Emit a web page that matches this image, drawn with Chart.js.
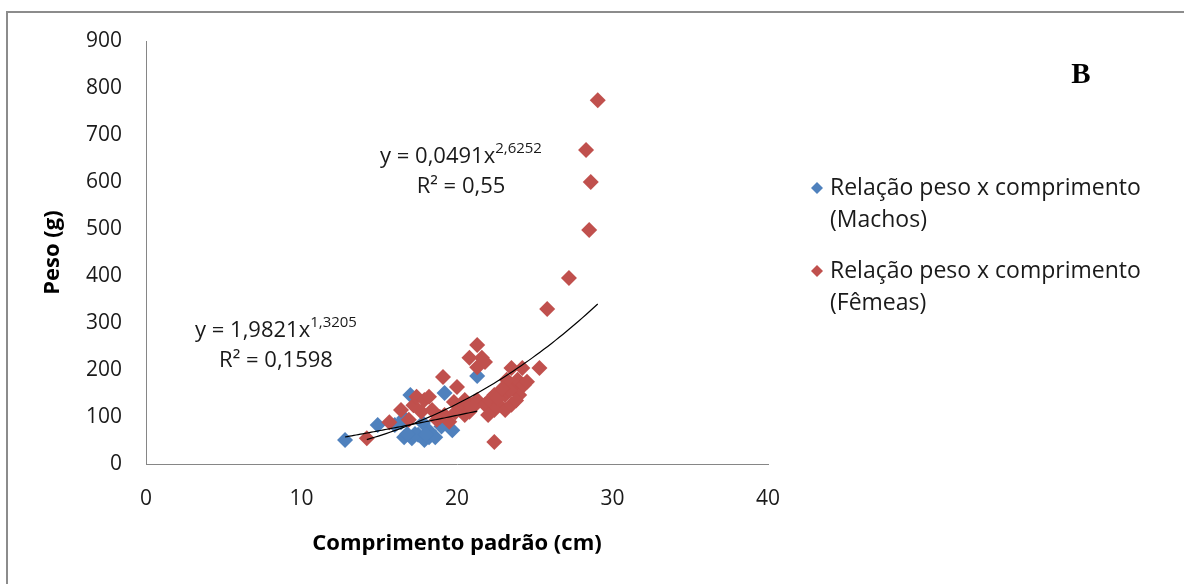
<!DOCTYPE html>
<html>
<head>
<meta charset="utf-8">
<script src="https://cdn.jsdelivr.net/npm/chart.js@4.4.0/dist/chart.umd.min.js"></script>
<style>
  html, body { margin: 0; padding: 0; background: #fff; }
  #wrap { width: 1184px; height: 584px; position: relative; }
</style>
</head>
<body>
<div id="wrap"><canvas id="pesoChart"></canvas></div>
<script>
// Machos: comprimento padrão (cm) / peso (g)
const machosX = [12.8, 14.9, 16.0, 16.4, 16.6, 16.6, 17.0, 17.1, 17.5, 17.8, 17.9, 18.2, 18.6, 18.2, 19.2, 19.0, 19.7, 21.3,
  17.3, 18.0, 16.8];
const machosY = [51, 83, 83, 89, 98, 57, 147, 55, 62, 87, 51, 57, 57, 70, 151, 80, 72, 187,
  64, 62, 64];

// Fêmeas
const femeasX = [14.2, 15.65, 16.4, 16.9, 17.2, 17.4, 17.9, 18.2, 17.7, 18.4, 18.7, 19.1, 20.0, 19.8, 19.2, 19.5,
  20.2, 20.5, 20.8, 21.3, 21.6, 21.3, 21.8, 20.9, 21.3, 21.8, 22.1, 22.4, 22.7, 22.4, 23.1, 23.1, 23.5, 23.7,
  23.5, 24.0, 23.9, 24.2, 24.3, 23.4, 23.2, 22.4, 22.0, 20.5, 20.8, 25.3, 25.8, 27.2, 28.5, 28.6, 28.3, 29.05,
  18.9, 19.9, 21.0, 22.6, 23.8, 24.5, 22.9];
const femeasY = [55, 89, 115, 94, 125, 143, 136, 143, 111, 115, 94, 185, 164, 132, 104, 90,
  115, 136, 226, 253, 226, 206, 217, 126, 136, 126, 136, 147, 126, 47, 147, 115, 204, 168,
  126, 147, 179, 204, 168, 157, 179, 115, 104, 104, 111, 204, 330, 396, 498, 600, 668, 774,
  100, 110, 120, 140, 135, 175, 160];

const xTicks = [0, 10, 20, 30, 40];
const yTicks = [0, 100, 200, 300, 400, 500, 600, 700, 800, 900];

const seriesNames = [
  ['Relação peso x comprimento', '(Machos)'],
  ['Relação peso x comprimento', '(Fêmeas)']
];

// Power trendlines y = a * x^b, as printed on the chart
const machosFit = [1.9821, 1.3205];
const femeasFit = [0.0491, 2.6252];
const machosEq = ['y = 1,9821x', '1,3205', 'R² = 0,1598'];
const femeasEq = ['y = 0,0491x', '2,6252', 'R² = 0,55'];

const blue = '#4F81BD';
const red = '#C0504D';
const font = "'Open Sans', sans-serif";

function toPoints(xs, ys) {
  return xs.map((x, i) => ({ x: x, y: ys[i] }));
}

function trend(xs, fit) {
  const lo = Math.min(...xs), hi = Math.max(...xs);
  const pts = [];
  for (let i = 0; i <= 60; i++) {
    const x = lo + (hi - lo) * i / 60;
    pts.push({ x: x, y: fit[0] * Math.pow(x, fit[1]) });
  }
  return pts;
}

// Frame, legend, equations and the "B" panel letter
const extras = {
  id: 'extras',
  afterDraw(chart) {
    const ctx = chart.ctx;
    const area = chart.chartArea;
    ctx.save();

    // outer frame
    ctx.strokeStyle = '#8c8c8c';
    ctx.lineWidth = 2;
    ctx.strokeRect(7, 12, 1200, 600);

    // equations
    function eq(parts, cx, baseY) {
      ctx.fillStyle = '#1a1a1a';
      ctx.textBaseline = 'alphabetic';
      ctx.font = '22px ' + font;
      const w1 = ctx.measureText(parts[0]).width;
      ctx.font = '15px ' + font;
      const w2 = ctx.measureText(parts[1]).width;
      const left = cx - (w1 + w2) / 2;
      ctx.font = '22px ' + font;
      ctx.textAlign = 'left';
      ctx.fillText(parts[0], left, baseY);
      ctx.font = '15px ' + font;
      ctx.fillText(parts[1], left + w1, baseY - 10);
      ctx.font = '22px ' + font;
      ctx.textAlign = 'center';
      ctx.fillText(parts[2], cx, baseY + 30);
    }
    eq(femeasEq, area.left + 315, 163);
    eq(machosEq, area.left + 130, 337);

    // legend
    const colors = [blue, red];
    const rows = [188, 271];
    seriesNames.forEach((lines, i) => {
      const y = rows[i];
      ctx.fillStyle = colors[i];
      ctx.beginPath();
      ctx.moveTo(811, y);
      ctx.lineTo(817, y - 6);
      ctx.lineTo(823, y);
      ctx.lineTo(817, y + 6);
      ctx.closePath();
      ctx.fill();
      ctx.fillStyle = '#1a1a1a';
      ctx.font = '23px ' + font;
      ctx.textAlign = 'left';
      ctx.textBaseline = 'middle';
      lines.forEach((t, j) => ctx.fillText(t, 830, y + j * 32));
    });

    // panel letter
    ctx.font = "bold 29px 'Liberation Serif', serif";
    ctx.textAlign = 'center';
    ctx.textBaseline = 'middle';
    ctx.fillStyle = '#000';
    ctx.fillText('B', 1081, 76);

    ctx.restore();
  }
};

const pesoCtx = document.getElementById('pesoChart').getContext('2d');
new Chart(pesoCtx, {
  type: 'scatter',
  data: {
    datasets: [
      {
        label: seriesNames[0].join(' '),
        data: toPoints(machosX, machosY),
        pointStyle: 'rectRot',
        pointRadius: 8,
        pointBackgroundColor: blue,
        pointBorderColor: blue,
        pointBorderWidth: 0,
        order: 2
      },
      {
        label: seriesNames[1].join(' '),
        data: toPoints(femeasX, femeasY),
        pointStyle: 'rectRot',
        pointRadius: 8,
        pointBackgroundColor: red,
        pointBorderColor: red,
        pointBorderWidth: 0,
        order: 1
      },
      {
        type: 'line',
        label: 'Potência (Machos)',
        data: trend(machosX, machosFit),
        borderColor: '#000',
        borderWidth: 1.2,
        pointRadius: 0,
        fill: false,
        order: 0
      },
      {
        type: 'line',
        label: 'Potência (Fêmeas)',
        data: trend(femeasX, femeasFit),
        borderColor: '#000',
        borderWidth: 1.2,
        pointRadius: 0,
        fill: false,
        order: 0
      }
    ]
  },
  options: {
    responsive: true,
    maintainAspectRatio: false,
    animation: false,
    layout: { padding: { left: 0, right: 416, top: 41, bottom: 0 } },
    plugins: {
      legend: { display: false },
      tooltip: { enabled: false }
    },
    scales: {
      x: {
        type: 'linear',
        min: 0,
        max: 40,
        afterBuildTicks: (scale) => { scale.ticks = xTicks.map(v => ({ value: v })); },
        afterFit: (scale) => { scale.height = 120; },
        grid: { display: false, drawTicks: false },
        border: { color: '#868686', width: 1 },
        ticks: { color: '#1a1a1a', font: { family: font, size: 21 }, padding: 22 },
        title: {
          display: true,
          text: 'Comprimento padrão (cm)',
          color: '#000',
          font: { family: font, size: 22, weight: 'bold' },
          padding: { top: 0, bottom: 27 }
        }
      },
      y: {
        min: 0,
        max: 900,
        afterBuildTicks: (scale) => { scale.ticks = yTicks.map(v => ({ value: v })); },
        afterFit: (scale) => { scale.width = 146; },
        grid: { display: false, drawTicks: false },
        border: { color: '#868686', width: 1 },
        ticks: { color: '#1a1a1a', font: { family: font, size: 21 }, padding: 24 },
        title: {
          display: true,
          text: 'Peso (g)',
          color: '#000',
          font: { family: font, size: 22, weight: 'bold' },
          padding: { top: 40, bottom: 0 }
        }
      }
    }
  },
  plugins: [extras]
});
</script>
</body>
</html>
